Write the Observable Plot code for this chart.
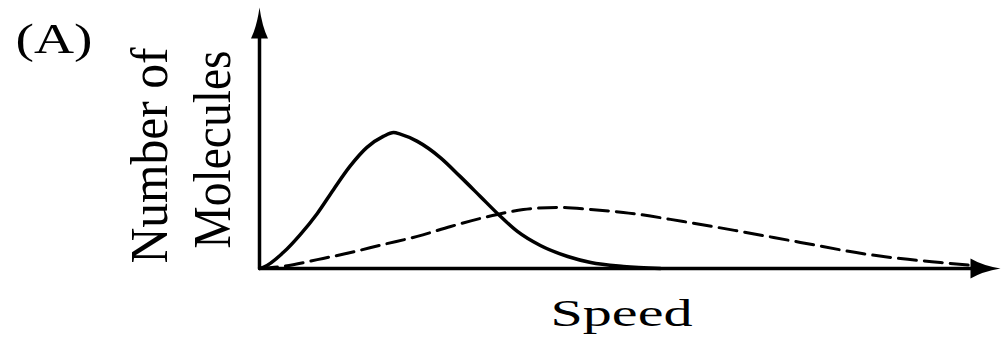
<!DOCTYPE html>
<html>
<head>
<meta charset="utf-8">
<script src="https://cdn.jsdelivr.net/npm/d3@7"></script>
<script src="https://cdn.jsdelivr.net/npm/@observablehq/plot@0.6"></script>
<style>
  html, body { margin: 0; padding: 0; background: #fff; color: #000; }
</style>
</head>
<body>
<div id="chart"></div>
<script>
// Solid curve (narrow, low-speed distribution)
const solidSpeed = [0, 0.05, 0.32, 0.55, 0.78, 1.00, 1.22, 1.45, 1.67, 1.81, 1.90, 2.13, 2.44, 2.71, 2.98, 3.21, 3.48, 3.79, 4.16, 4.47, 4.91, 5.41];
const solidCount = [0, 0.04, 0.61, 1.30, 2.11, 3.03, 3.91, 4.64, 5.06, 5.21, 5.15, 4.87, 4.25, 3.52, 2.76, 2.11, 1.42, 0.88, 0.46, 0.23, 0.08, 0];

// Dashed curve (broad, high-speed distribution)
const dashedSpeed = [0, 0.32, 0.78, 1.23, 1.67, 2.13, 2.58, 3.21, 3.56, 4.02, 4.47, 4.91, 5.72, 6.49, 7.30, 8.21, 8.65, 9.19, 9.66];
const dashedCount = [0, 0.08, 0.34, 0.61, 0.92, 1.23, 1.61, 2.07, 2.26, 2.34, 2.26, 2.15, 1.80, 1.42, 1.00, 0.54, 0.38, 0.23, 0.11];

// Axis extents (data units) and domains
const xDomain = [0, 10];
const yDomain = [0, 10];
const xAxisEnd = 9.65;
const yAxisEnd = 8.85;

// Texts
const panelLabel = "(A)";
const yLabelLines = ["Number of", "Molecules"];
const xLabel = "Speed";

const solid = solidSpeed.map((s, i) => ({speed: s, count: solidCount[i]}));
const dashed = dashedSpeed.map((s, i) => ({speed: s, count: dashedCount[i]}));

// Arrowhead symbols (tip at origin)
const headUp = {
  draw(ctx) {
    const L = 31, w = 17;
    ctx.moveTo(0, 0);
    ctx.quadraticCurveTo(w * 0.15, L * 0.6, w / 2, L);
    ctx.lineTo(-w / 2, L);
    ctx.quadraticCurveTo(-w * 0.15, L * 0.6, 0, 0);
    ctx.closePath();
  }
};
const headRight = {
  draw(ctx) {
    const L = 30, w = 20;
    ctx.moveTo(0, 0);
    ctx.quadraticCurveTo(-L * 0.6, w * 0.15, -L, w / 2);
    ctx.lineTo(-L, -w / 2);
    ctx.quadraticCurveTo(-L * 0.6, -w * 0.15, 0, 0);
    ctx.closePath();
  }
};

const serif = "'Liberation Serif', 'Times New Roman', 'DejaVu Serif', serif";

const chart = Plot.plot({
  width: 1002,
  height: 345,
  marginLeft: 259,
  marginRight: 2,
  marginTop: 7,
  marginBottom: 77,
  x: {domain: xDomain, axis: null},
  y: {domain: yDomain, axis: null},
  style: {fontFamily: serif, background: "#fff", color: "#000", overflow: "visible"},
  marks: [
    // axes
    Plot.ruleY([0], {x1: 0, x2: xAxisEnd, stroke: "#000", strokeWidth: 3.5}),
    Plot.ruleX([0], {y1: 0, y2: yAxisEnd, stroke: "#000", strokeWidth: 3.5}),
    Plot.dot([{x: 0, y: yDomain[1]}], {x: "x", y: "y", symbol: headUp, r: 5, fill: "#000", stroke: "none"}),
    Plot.dot([{x: xDomain[1], y: 0}], {x: "x", y: "y", symbol: headRight, r: 5, fill: "#000", stroke: "none"}),
    // curves
    Plot.line(dashed, {x: "speed", y: "count", stroke: "#000", strokeWidth: 3, strokeDasharray: "18,8", curve: "monotone-x"}),
    Plot.line(solid, {x: "speed", y: "count", stroke: "#000", strokeWidth: 3.5, curve: "monotone-x"}),
    // labels
    Plot.text([panelLabel], {frameAnchor: "top-left", lineAnchor: "middle", dx: -244, dy: 32.5, text: d => d, textAnchor: "start", fontSize: 42, fill: "#000"}),
    Plot.text([yLabelLines[0]], {frameAnchor: "top-left", lineAnchor: "middle", dx: -109, dy: 148, text: d => d, rotate: -90, textAnchor: "middle", fontSize: 53, fill: "#000"}),
    Plot.text([yLabelLines[1]], {frameAnchor: "top-left", lineAnchor: "middle", dx: -46, dy: 142, text: d => d, rotate: -90, textAnchor: "middle", fontSize: 53, fill: "#000"}),
    Plot.text([xLabel], {frameAnchor: "top-left", lineAnchor: "middle", dx: 362, dy: 306, text: d => d, textAnchor: "middle", fontSize: 38, fill: "#000"})
  ]
});

// stretch texts to the widths seen in the reference
const textLengths = {"(A)": 77, "Number of": 216, "Molecules": 198, "Speed": 142};
d3.select(chart).selectAll("text").each(function () {
  const t = this.textContent;
  if (textLengths[t]) {
    this.setAttribute("textLength", textLengths[t]);
    this.setAttribute("lengthAdjust", "spacingAndGlyphs");
  }
});

document.getElementById("chart").appendChild(chart);
</script>
</body>
</html>
